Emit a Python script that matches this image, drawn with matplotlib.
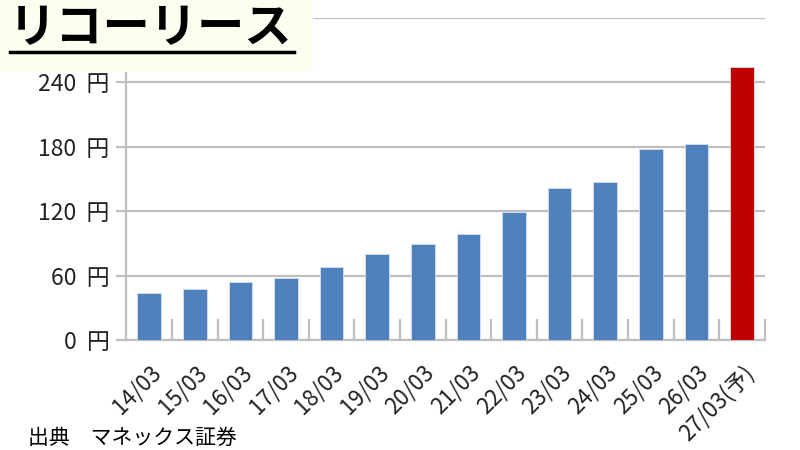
import numpy as np
import matplotlib
matplotlib.use("Agg")
import matplotlib.pyplot as plt
from matplotlib.patches import Rectangle

plt.rcParams['font.family'] = ['Noto Sans CJK JP', 'DejaVu Sans']

# data
dates = ["14/03", "15/03", "16/03", "17/03", "18/03", "19/03", "20/03",
         "21/03", "22/03", "23/03", "24/03", "25/03", "26/03", "27/03(予)"]
prices = [44, 48, 54, 58, 68, 80, 90, 99, 119, 142, 147, 178, 183, 254]
yticks = [0, 60, 120, 180, 240, 300]

blue = "#4F81BD"
red = "#C00000"
grid = "#BFBFBF"

fig = plt.figure(figsize=(8, 4.5), dpi=100)
ax = fig.add_axes([0.158, 0.244, 0.798, 0.716])

x = np.arange(len(dates))
colors = [blue] * (len(dates) - 1) + [red]
ax.bar(x, prices, width=0.52, color=colors, edgecolor="#D6E0EE", linewidth=0.6, zorder=3)

ax.set_xlim(-0.5, len(dates) - 0.5)
ax.set_ylim(0, 300)
ax.set_yticks(yticks)
# top label (300) sits under the title box in the reference
ax.set_yticklabels([f"{v}  円" if v < 300 else "" for v in yticks],
                   fontsize=16.5, color="#222222")
ax.yaxis.grid(True, color=grid, linewidth=1.6, zorder=0)
ax.tick_params(axis="y", length=7, width=1.6, color=grid, pad=5)

# x tick marks at category boundaries, labels at centres
ax.set_xticks(x)
ax.set_xticklabels(dates, rotation=45, ha="right", rotation_mode="anchor",
                   fontsize=16, color="#222222")
ax.tick_params(axis="x", length=0, pad=15)
ax.set_xticks(np.arange(0.5, len(dates), 1.0), minor=True)
ax.tick_params(axis="x", which="minor", direction="in", length=15, width=1.6, color=grid)

for s in ["top", "right"]:
    ax.spines[s].set_visible(False)
for s in ["left", "bottom"]:
    ax.spines[s].set_color(grid)
    ax.spines[s].set_linewidth(1.6)

# title box
fig.patches.append(Rectangle((0, 1 - 72 / 450), 313 / 800, 72 / 450,
                             transform=fig.transFigure, facecolor="#FEFEF0",
                             edgecolor="none", zorder=5))
fig.text(9 / 800, 1 - 28 / 450, "リコーリース", fontsize=34, fontweight="bold",
         va="center", ha="left", zorder=6)
fig.lines.append(plt.Line2D([10 / 800, 294 / 800], [1 - 52 / 450, 1 - 52 / 450],
                            transform=fig.transFigure, color="black", linewidth=2.5, zorder=6))

fig.text(28 / 800, 1 - 438 / 450, "出典　マネックス証券", fontsize=15, va="center", ha="left")

fig.savefig("out.png", dpi=100)
